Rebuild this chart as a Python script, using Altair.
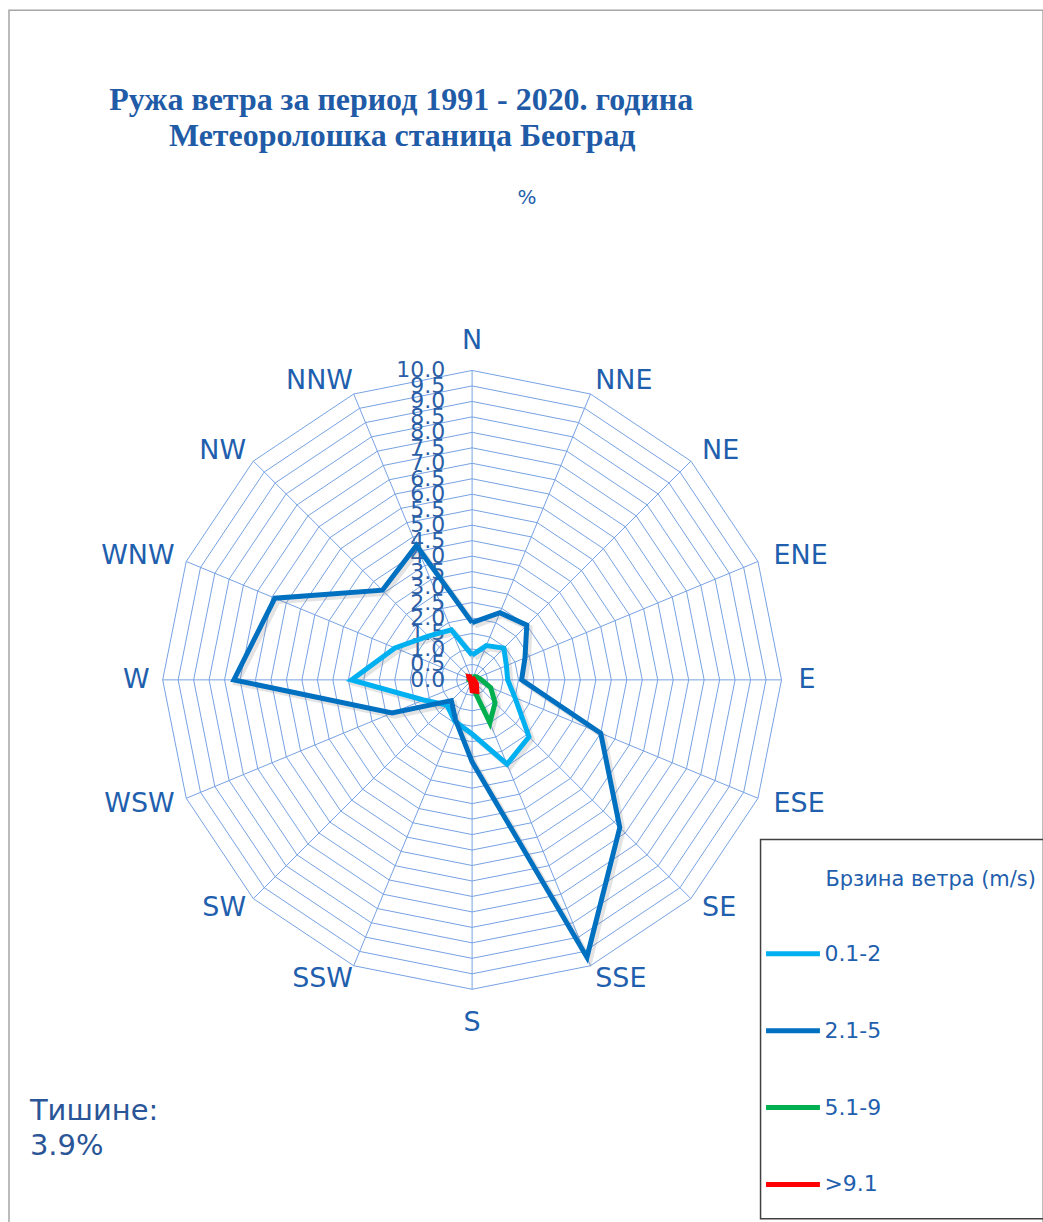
import altair as alt
import pandas as pd

# ---------------- data ----------------
directions = ["N", "NNE", "NE", "ENE", "E", "ESE", "SE", "SSE",
              "S", "SSW", "SW", "WSW", "W", "WNW", "NW", "NNW"]
speed_classes = ["0.1-2", "2.1-5", "5.1-9", ">9.1"]
freq_0_1_2 = [0.8, 1.2, 1.45, 1.2, 1.15, 1.5, 2.6, 2.95, 1.75, 1.45, 1.15, 1.7, 3.9, 2.7, 2.0, 1.75]
freq_2_1_5 = [1.85, 2.35, 2.5, 1.85, 1.6, 4.5, 6.75, 9.7, 2.65, 1.4, 0.95, 2.8, 7.7, 6.9, 4.1, 4.7]
freq_5_1_9 = [0.1, 0.1, 0.15, 0.2, 0.3, 0.65, 1.05, 1.5, 0.2, 0.1, 0.05, 0.05, 0.1, 0.1, 0.15, 0.1]
freq_9_1 = [0.1, 0.05, 0.05, 0.05, 0.05, 0.1, 0.2, 0.4, 0.35, 0.1, 0.05, 0.05, 0.05, 0.1, 0.15, 0.1]
tick_values = [0.0, 0.5, 1.0, 1.5, 2.0, 2.5, 3.0, 3.5, 4.0, 4.5, 5.0,
               5.5, 6.0, 6.5, 7.0, 7.5, 8.0, 8.5, 9.0, 9.5, 10.0]
title_line1 = "Ружа ветра за период 1991 - 2020. година"
title_line2 = "Метеоролошка станица Београд"
unit_label = "%"
legend_title = "Брзина ветра (m/s)"
calm_line1 = "Тишине:"
calm_line2 = "3.9%"

series = [freq_0_1_2, freq_2_1_5, freq_5_1_9, freq_9_1]
colors = ["#00b0f0", "#0070c0", "#00b050", "#ff0000"]

# ---------------- tables ----------------
n = len(directions)
rows = []
for cls, vals in zip(speed_classes, series):
    for i in range(n + 1):
        rows.append({"cls": cls, "idx": i, "r": vals[i % n]})
series_df = pd.DataFrame(rows)

ring_rows = []
for t in tick_values[1:]:
    for i in range(n + 1):
        ring_rows.append({"ring": t, "idx": i, "r": t})
ring_df = pd.DataFrame(ring_rows)

spoke_df = pd.DataFrame({"idx": list(range(n)), "r": [tick_values[-1]] * n})
dir_df = pd.DataFrame({"idx": list(range(n)), "name": directions})
tick_df = pd.DataFrame({"v": tick_values, "label": [f"{t:.1f}" for t in tick_values]})

# ---------------- layout ----------------
W, H = 1036, 1215
CX, CY = 464, 671
PPU = 31.0
xdom = [-CX / PPU, (W - CX) / PPU]
ydom = [-(H - CY) / PPU, CY / PPU]
xs = alt.Scale(domain=xdom, nice=False, zero=False)
ys = alt.Scale(domain=ydom, nice=False, zero=False)

GRID = "#76a2e2"
BLUE_TXT = "#1f5fad"
DIR_FONT = 27
SHADOW = 0.09  # shadow offset in data units (~3px)

angle = "datum.idx * PI / 8"
X = alt.X("x:Q", scale=xs, axis=None)
Y = alt.Y("y:Q", scale=ys, axis=None)

rings = alt.Chart(ring_df).transform_calculate(
    x=f"datum.r * sin({angle})", y=f"datum.r * cos({angle})"
).mark_line(stroke=GRID, strokeWidth=1).encode(
    x=X, y=Y, detail="ring:N", order="idx:Q",
)

spokes = alt.Chart(spoke_df).transform_calculate(
    x0="0", y0="0",
    x=f"datum.r * sin({angle})", y=f"datum.r * cos({angle})"
).mark_rule(stroke=GRID, strokeWidth=1).encode(
    x=alt.X("x0:Q", scale=xs, axis=None),
    y=alt.Y("y0:Q", scale=ys, axis=None),
    x2="x:Q", y2="y:Q",
)

ticks = alt.Chart(tick_df).transform_calculate(x="0").mark_text(
    align="right", baseline="middle", dx=-27, font="DejaVu Sans",
    fontSize=22, color="#2a5ea6"
).encode(
    x=X, y=alt.Y("v:Q", scale=ys, axis=None), text="label:N",
)

def dir_layer(filter_expr, rx, ry, **kw):
    return alt.Chart(dir_df).transform_filter(filter_expr).transform_calculate(
        x=f"{rx} * sin({angle})", y=f"{ry} * cos({angle})"
    ).mark_text(font="DejaVu Sans", fontSize=DIR_FONT, color=BLUE_TXT, **kw).encode(
        x=X, y=Y, text="name:N",
    )

dir_right = dir_layer("datum.idx > 0 && datum.idx < 8", 10.65, 10.45,
                      align="left", baseline="middle", dx=-3)
dir_left = dir_layer("datum.idx > 8", 10.65, 10.45,
                     align="right", baseline="middle", dx=7)
dir_n = dir_layer("datum.idx == 0", 10.5, 10.5, align="center", baseline="bottom")
dir_s = dir_layer("datum.idx == 8", 10.66, 10.66, align="center", baseline="top")

shadows = alt.Chart(series_df).transform_calculate(
    x=f"datum.r * sin({angle}) + {SHADOW}", y=f"datum.r * cos({angle}) - {SHADOW}"
).mark_line(strokeWidth=6, stroke="#7f7f7f", opacity=0.22, strokeJoin="miter").encode(
    x=X, y=Y, order="idx:Q", detail="cls:N",
)

lines = alt.Chart(series_df).transform_calculate(
    x=f"datum.r * sin({angle})", y=f"datum.r * cos({angle})"
).mark_line(strokeWidth=5, strokeJoin="miter").encode(
    x=X, y=Y,
    order="idx:Q",
    color=alt.Color(
        "cls:N",
        scale=alt.Scale(domain=speed_classes, range=colors),
        legend=alt.Legend(
            orient="none", legendX=750, legendY=910,
            title=None,
            labelFont="DejaVu Sans", labelFontSize=22, labelColor=BLUE_TXT,
            labelOffset=2,
            symbolType="stroke", symbolSize=2916, symbolStrokeWidth=5,
            rowPadding=36, padding=6,
        ),
    ),
)

one = pd.DataFrame({"k": [0]})

legend_box = alt.Chart(one).mark_rect(
    fill="white", fillOpacity=0, stroke="#404040", strokeWidth=1.5
).encode(
    x=alt.value(753), x2=alt.value(1045), y=alt.value(831), y2=alt.value(1211)
)

def text_at(txt, px, py, **kw):
    return alt.Chart(one).mark_text(text=txt, **kw).encode(x=alt.value(px), y=alt.value(py))

title_kw = dict(font="Liberation Serif", fontWeight="bold", fontSize=32,
                color="#1f5ba6", align="center", baseline="middle")
t1 = text_at(title_line1, 393, 90, **title_kw)
t2 = text_at(title_line2, 394, 126, **title_kw)
unit = text_at(unit_label, 519, 188, font="DejaVu Sans", fontSize=20,
               color=BLUE_TXT, align="center", baseline="middle")
leg_title = text_at(legend_title, 818, 872, font="DejaVu Sans", fontSize=21,
                    color=BLUE_TXT, align="left", baseline="middle")
calm_kw = dict(font="DejaVu Sans", fontSize=29, color="#2a5597",
               align="left", baseline="middle")
c1 = text_at(calm_line1, 21, 1103, **calm_kw)
c2 = text_at(calm_line2, 21, 1138, **calm_kw)

chart = alt.layer(
    rings, spokes, ticks, dir_right, dir_left, dir_n, dir_s, shadows, lines,
    legend_box, t1, t2, unit, leg_title, c1, c2
).properties(
    width=W, height=H,
    autosize=alt.AutoSizeParams(type="none"),
    padding={"left": 9, "top": 9, "right": 0, "bottom": 0},
).configure_view(stroke="#a6a6a6", strokeWidth=1.5)

chart.save("out.html", embed_options={"renderer": "svg", "actions": False})
